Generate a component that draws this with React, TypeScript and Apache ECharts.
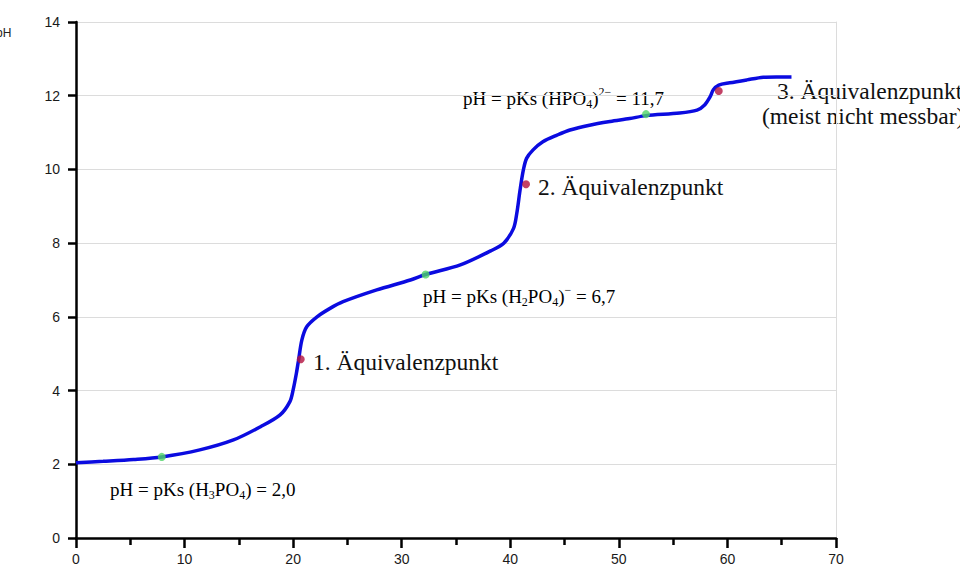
import React, { useEffect, useRef } from "react";
import * as echarts from "echarts";

// Titration curve of H3PO4 (volume of NaOH vs pH)
const volume = [0, 2.5, 5.3, 7.9, 11.4, 14.5, 17, 18.8, 19.7, 20.0, 20.3, 20.5, 20.8, 21.25, 22.2, 23.4, 24.6, 27.7, 30.8, 32.2, 35.4, 38.2, 39.4, 40.3, 40.6, 40.9, 41.2, 41.5, 42.1, 43.0, 44.3, 45.5, 47.3, 49.2, 51.0, 52.5, 55.6, 57.2, 57.9, 58.4, 58.7, 59.2, 60.2, 61.8, 63.3, 64.5, 65.9];
const pH = [2.04, 2.08, 2.13, 2.2, 2.39, 2.66, 3.02, 3.34, 3.70, 4.02, 4.47, 4.83, 5.37, 5.73, 6.0, 6.23, 6.41, 6.73, 7.0, 7.15, 7.41, 7.79, 8.0, 8.4, 8.81, 9.44, 9.98, 10.3, 10.53, 10.75, 10.93, 11.07, 11.2, 11.3, 11.38, 11.46, 11.53, 11.61, 11.75, 11.97, 12.16, 12.29, 12.35, 12.43, 12.5, 12.51, 12.51];

// half-equivalence points (pH = pKs)
const pksX = [7.9, 32.2, 52.5];
const pksY = [2.2, 7.15, 11.5];
// equivalence points
const eqX = [20.7, 41.45, 59.2];
const eqY = [4.85, 9.6, 12.13];

const xTicks = { min: 0, max: 70, interval: 10 };
const yTicks = { min: 0, max: 14, interval: 2 };

const serif = "'Liberation Serif', 'Times New Roman', serif";
const sans = "'Liberation Sans', Arial, sans-serif";

const richBase = {
  a: { fontFamily: serif, fontSize: 19, lineHeight: 24, color: "#111" },
  sub: { fontFamily: serif, fontSize: 12, lineHeight: 12, verticalAlign: "bottom", color: "#111" },
  sup: { fontFamily: serif, fontSize: 12, lineHeight: 19, verticalAlign: "top", color: "#111" },
};

export default function App() {
  const ref = useRef<HTMLDivElement>(null);
  useEffect(() => {
    if (!ref.current) return;
    const chart = echarts.init(ref.current, null, { renderer: "svg" });
    const line = volume.map((v, i) => [v, pH[i]]);
    const pks = pksX.map((v, i) => [v, pksY[i]]);
    const eq = eqX.map((v, i) => [v, eqY[i]]);
    const axisStyle = { color: "#000", width: 2.5 };
    const big = `23.5px ${serif}`;
    chart.setOption({
      animation: false,
      grid: { left: 76, right: 124, top: 22, bottom: 38, containLabel: false },
      xAxis: {
        type: "value",
        min: xTicks.min,
        max: xTicks.max,
        interval: xTicks.interval,
        axisLine: { show: true, onZero: false, lineStyle: axisStyle },
        axisTick: { show: true, length: 10, lineStyle: axisStyle },
        minorTick: { show: true, splitNumber: 2, length: 7, lineStyle: axisStyle },
        splitLine: { show: false },
        axisLabel: { fontFamily: sans, fontSize: 14, color: "#1a1a1a", margin: 14 },
      },
      yAxis: [
        {
          type: "value",
          min: yTicks.min,
          max: yTicks.max,
          interval: yTicks.interval,
          axisLine: { show: true, lineStyle: axisStyle },
          axisTick: { show: true, length: 8, lineStyle: axisStyle },
          splitLine: { show: true, lineStyle: { color: "#dcdcdc", width: 1 } },
          axisLabel: { fontFamily: sans, fontSize: 14, color: "#1a1a1a", margin: 16 },
        },
        {
          type: "value",
          position: "right",
          min: yTicks.min,
          max: yTicks.max,
          interval: yTicks.interval,
          axisLine: { show: true, lineStyle: { color: "#dcdcdc", width: 1 } },
          axisTick: { show: false },
          axisLabel: { show: false },
          splitLine: { show: false },
        },
      ],
      series: [
        {
          type: "line",
          data: line,
          smooth: 0.3,
          showSymbol: false,
          lineStyle: { color: "#0b0be0", width: 3.5 },
          z: 2,
        },
        {
          type: "scatter",
          data: pks,
          symbolSize: 8,
          itemStyle: { color: "#4fd466" },
          z: 3,
        },
        {
          type: "scatter",
          data: eq,
          symbolSize: 8,
          itemStyle: { color: "#b3123f" },
          z: 3,
        },
      ],
      graphic: [
        { type: "text", x: -4, y: 27, style: { text: "pH", font: `12px ${sans}`, fill: "#222" } },
        {
          type: "text", x: 110, y: 477,
          style: { text: "{a|pH = pKs (H}{sub|3}{a|PO}{sub|4}{a|) = 2,0}", rich: richBase },
        },
        {
          type: "text", x: 423, y: 284,
          style: { text: "{a|pH = pKs (H}{sub|2}{a|PO}{sub|4}{a|)}{sup|−}{a| = 6,7}", rich: richBase },
        },
        {
          type: "text", x: 463, y: 86,
          style: { text: "{a|pH = pKs (HPO}{sub|4}{a|)}{sup|2−}{a| = 11,7}", rich: richBase },
        },
        { type: "text", x: 313, y: 350, style: { text: "1. Äquivalenzpunkt", font: big, fill: "#111" } },
        { type: "text", x: 538, y: 175, style: { text: "2. Äquivalenzpunkt", font: big, fill: "#111" } },
        { type: "text", x: 777, y: 79, style: { text: "3. Äquivalenzpunkt", font: big, fill: "#111" } },
        { type: "text", x: 762, y: 104, style: { text: "(meist nicht messbar)", font: big, fill: "#111" } },
      ],
    });
    return () => chart.dispose();
  }, []);
  return <div ref={ref} style={{ width: 960, height: 576, position: "absolute", left: 0, top: 0 }} />;
}
